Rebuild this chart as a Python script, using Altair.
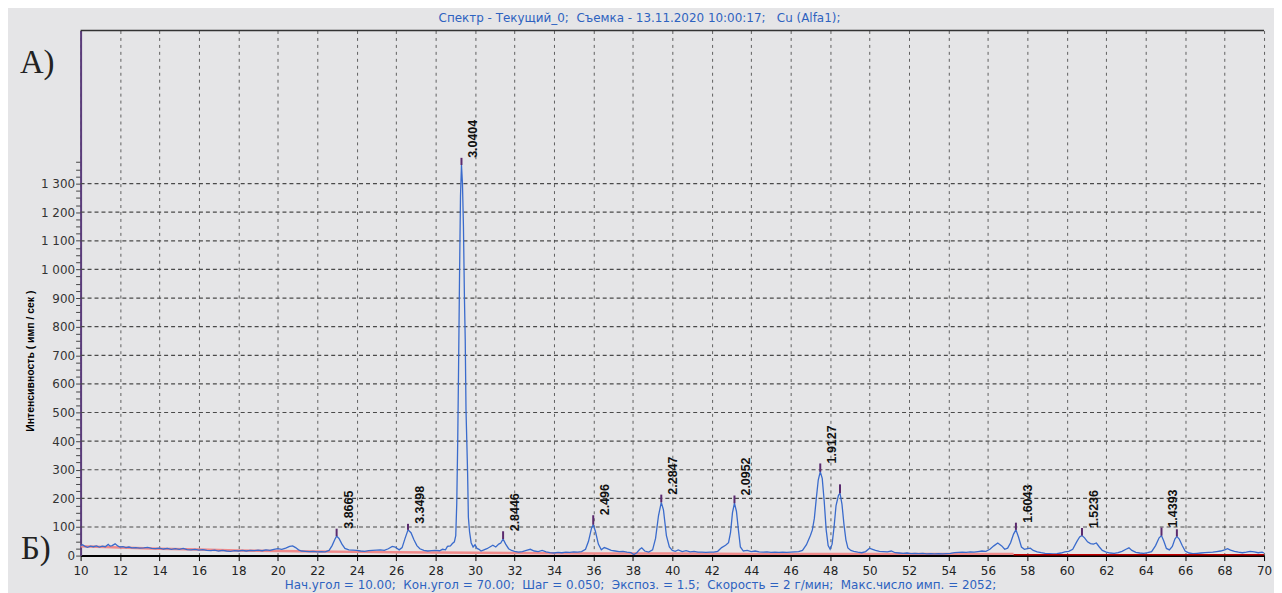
import altair as alt
import pandas as pd

# ---------------- data ----------------
scan = [
(10.0,34),(10.1,38),(10.2,33),(10.35,29),(10.5,33),(10.65,31),(10.8,34),(10.95,30),(11.1,33),(11.25,31),
(11.4,39),(11.5,33),(11.6,35),(11.75,41),(11.9,33),(12.0,30),(12.15,31),(12.3,28),(12.45,30),(12.6,27),
(12.8,28),(13.0,26),(13.2,27),(13.4,29),(13.6,25),(13.8,24),(14.0,26),(14.2,23),(14.4,25),(14.6,22),
(14.8,24),(15.0,22),(15.2,25),(15.4,21),(15.6,20),(15.8,22),(16.0,19),(16.2,21),(16.4,18),(16.6,17),
(16.8,19),(17.0,16),(17.2,18),(17.4,16),(17.6,15),(17.8,17),(18.0,16),(18.2,18),(18.4,16),(18.6,18),
(18.8,17),(19.0,19),(19.2,17),(19.4,20),(19.6,18),(19.8,22),(20.0,24),(20.2,22),(20.4,26),(20.6,32),
(20.75,34),(20.9,28),(21.05,20),(21.2,16),(21.4,15),(21.6,14),(21.8,15),(22.0,13),(22.2,14),(22.4,13),
(22.6,18),(22.75,35),(22.9,58),(22.98,68),(23.1,60),(23.25,40),(23.4,25),(23.6,20),(23.8,19),(24.0,18),
(24.2,16),(24.4,15),(24.6,17),(24.8,18),(25.0,19),(25.2,20),(25.4,18),(25.6,24),(25.8,32),(25.95,30),
(26.15,20),(26.3,28),(26.45,60),(26.6,90),(26.75,80),(26.9,55),(27.05,35),(27.2,24),(27.4,18),(27.6,16),
(27.8,17),(28.0,18),(28.2,17),(28.35,22),(28.5,20),(28.6,32),(28.75,34),(28.85,42),(28.95,48),(29.02,70),
(29.07,180),(29.12,400),(29.16,640),(29.21,965),(29.26,1255),(29.31,1365),(29.36,1300),(29.41,1150),(29.46,900),(29.5,757),
(29.54,508),(29.58,400),(29.62,290),(29.66,134),(29.72,83),(29.8,45),(29.9,30),(30.0,38),(30.1,25),(30.2,22),
(30.3,16),(30.45,20),(30.6,24),(30.75,30),(30.9,36),(31.05,30),(31.2,40),(31.3,44),(31.42,58),(31.55,40),
(31.7,24),(31.85,18),(32.0,15),(32.2,12),(32.4,14),(32.6,18),(32.8,22),(33.0,16),(33.2,14),(33.4,18),
(33.6,13),(33.8,10),(34.0,9),(34.2,11),(34.4,10),(34.6,12),(34.8,11),(35.0,13),(35.2,12),(35.4,14),
(35.6,22),(35.75,50),(35.9,95),(35.99,108),(36.1,85),(36.25,40),(36.4,20),(36.55,28),(36.7,24),(36.9,18),
(37.1,16),(37.3,14),(37.5,15),(37.7,12),(37.9,10),(38.05,4),(38.2,10),(38.35,22),(38.45,27),(38.6,16),
(38.8,12),(39.0,20),(39.15,60),(39.3,140),(39.44,186),(39.55,160),(39.7,70),(39.85,30),(40.0,18),(40.15,15),
(40.3,20),(40.5,14),(40.7,17),(40.9,13),(41.1,15),(41.3,12),(41.5,12),(41.7,11),(41.9,12),(42.1,12),
(42.3,15),(42.5,28),(42.7,36),(42.85,45),(42.95,80),(43.05,150),(43.15,183),(43.25,155),(43.35,90),(43.45,30),
(43.6,16),(43.8,18),(44.0,14),(44.2,16),(44.4,13),(44.6,12),(44.8,13),(45.0,11),(45.2,12),(45.4,11),
(45.6,12),(45.8,11),(46.0,12),(46.2,13),(46.4,14),(46.6,18),(46.8,38),(47.0,70),(47.1,90),(47.2,130),
(47.3,200),(47.4,265),(47.5,293),(47.6,270),(47.7,190),(47.8,90),(47.9,35),(48.0,22),(48.1,40),(48.2,100),
(48.3,175),(48.42,210),(48.5,218),(48.6,180),(48.7,110),(48.8,55),(48.9,27),(49.05,18),(49.2,15),(49.4,12),
(49.6,10),(49.8,14),(50.0,26),(50.15,22),(50.3,18),(50.5,15),(50.7,14),(50.9,13),(51.1,16),(51.3,10),
(51.5,9),(51.7,8),(51.9,9),(52.1,7),(52.3,8),(52.5,7),(52.7,8),(52.9,6),(53.1,7),(53.3,6),
(53.5,7),(53.7,6),(53.9,7),(54.1,8),(54.3,10),(54.5,11),(54.7,12),(54.9,11),(55.1,13),(55.3,12),
(55.5,14),(55.7,16),(55.9,15),(56.1,22),(56.3,34),(56.5,44),(56.7,34),(56.85,22),(57.0,26),(57.15,45),
(57.3,75),(57.42,90),(57.55,65),(57.7,30),(57.85,22),(58.0,24),(58.15,26),(58.3,18),(58.5,13),(58.7,10),
(58.9,8),(59.1,7),(59.3,6),(59.5,7),(59.7,9),(59.9,13),(60.1,15),(60.3,22),(60.5,48),(60.65,65),
(60.77,70),(60.9,62),(61.05,48),(61.2,42),(61.35,40),(61.5,44),(61.65,30),(61.8,18),(62.0,12),(62.2,9),
(62.4,8),(62.6,10),(62.8,15),(63.0,22),(63.15,27),(63.3,18),(63.5,11),(63.7,9),(63.9,8),(64.1,10),
(64.3,14),(64.5,35),(64.68,62),(64.8,70),(64.92,50),(65.05,25),(65.2,20),(65.35,32),(65.48,58),(65.58,67),
(65.7,58),(65.85,35),(66.0,16),(66.2,9),(66.4,7),(66.6,8),(66.8,9),(67.0,10),(67.2,11),(67.4,12),
(67.6,14),(67.8,16),(68.0,20),(68.15,24),(68.3,19),(68.5,15),(68.7,12),(68.9,10),(69.1,12),(69.3,15),
(69.5,13),(69.7,10),(69.9,12),(70.0,9),
]

bg_angle = [10, 12, 14, 16, 18, 20, 22, 24, 26, 28, 30, 32, 34, 36, 40, 44, 48, 52, 57.3]
bg_counts = [33, 28, 24, 21, 18, 16, 14, 13, 12, 11, 10, 9, 8, 7, 7, 6, 6, 6, 6]
bg2_angle = [57.3, 70]
bg2_counts = [3, 3]

tick_angle = [22.98, 26.6, 29.31, 31.42, 35.99, 39.44, 43.15, 47.50, 48.50, 57.42, 60.77, 64.80, 65.58]
tick_base = [68, 90, 1365, 58, 108, 186, 183, 293, 218, 90, 70, 70, 67]
tick_top = [94, 111, 1390, 85, 141, 213, 210, 322, 249, 115, 96, 98, 92]

label_text = ["3.8665", "3.3498", "3.0404", "2.8446", "2.496", "2.2847", "2.0952",
              "1.9127", "1.6043", "1.5236", "1.4393"]
label_angle = [22.98, 26.6, 29.31, 31.42, 35.99, 39.44, 43.15, 47.50, 57.42, 60.77, 64.80]
label_level = [94, 111, 1390, 85, 141, 213, 210, 322, 115, 96, 98]

x_ticks = list(range(10, 71, 2))
y_ticks = list(range(0, 1376, 25))
grid_levels = list(range(100, 1301, 100))

header = "Спектр - Текущий_0;\u00a0 Съемка - 13.11.2020 10:00:17;\u00a0\u00a0 Cu (Alfa1);"
footer = ("Нач.угол = 10.00;\u00a0 Кон.угол = 70.00;\u00a0 Шаг = 0.050;\u00a0 Экспоз. = 1.5;\u00a0 "
          "Скорость = 2 г/мин;\u00a0 Макс.число имп. = 2052;")
y_title = "Интенсивность ( имп / сек )"

# ---------------- tables ----------------
df_scan = pd.DataFrame(scan, columns=["x", "y"])
df_bg = pd.DataFrame({"x": bg_angle, "y": bg_counts})
df_bg2 = pd.DataFrame({"x": bg2_angle, "y": bg2_counts})
df_ticks = pd.DataFrame({"x": tick_angle, "y": tick_base, "y2": tick_top})
df_labels = pd.DataFrame({"x": label_angle, "y": label_level, "t": label_text})
df_grid = pd.DataFrame({"y": grid_levels})

W, H = 1190, 528
BG = "#e5e5e7"

xscale = alt.Scale(domain=[10, 70], nice=False, zero=False)
yscale = alt.Scale(domain=[0, 1835], nice=False, zero=False)

xaxis = alt.Axis(values=x_ticks, grid=True, gridDash=[3, 4], gridColor="#5f5f5f", gridWidth=1,
                 domainColor="#000000", domainWidth=2, tickColor="#000000", tickSize=5,
                 labelFont="DejaVu Sans", labelFontSize=12, labelColor="#222222", labelPadding=5,
                 labelFlush=False, labelOverlap=False, title=None)
yaxis = alt.Axis(values=y_ticks, grid=False,
                 labelExpr="datum.value % 100 != 0 ? '' : (datum.value >= 1000 ? replace(format(datum.value, ','), ',', ' ') : format(datum.value, 'd'))",
                 domainColor="#5a3c7a", domainWidth=2, tickColor="#444444", tickSize=5,
                 labelFont="DejaVu Sans", labelFontSize=12, labelColor="#333333", labelPadding=1,
                 labelOverlap=False, labelFlush=False,
                 title=y_title, titleFont="Liberation Sans", titleFontSize=10.5, titleFontWeight="bold",
                 titleAngle=270, titleX=-50, titleY=332, titleAlign="center", titleBaseline="middle",
                 titleColor="#000000")

X = alt.X("x:Q", scale=xscale, axis=xaxis)
Y = alt.Y("y:Q", scale=yscale, axis=yaxis)

hgrid = alt.Chart(df_grid).mark_rule(color="#4a4a4a", strokeDash=[4, 3], strokeWidth=1.2).encode(
    y=Y, x=alt.value(0), x2=alt.value(W))

bg_line = alt.Chart(df_bg).mark_line(color="#f08a8a", strokeWidth=2.5).encode(x=X, y=Y)
bg2_line = alt.Chart(df_bg2).mark_line(color="#c00000", strokeWidth=1.5).encode(x=X, y=Y)

spectrum = alt.Chart(df_scan).mark_line(color="#3a6bcc", strokeWidth=1.3).encode(x=X, y=Y)

peak_ticks = alt.Chart(df_ticks).mark_rule(color="#5b2a6e", strokeWidth=2).encode(
    x=X, y=Y, y2="y2:Q")

peak_labels = alt.Chart(df_labels).mark_text(
    angle=270, align="left", baseline="middle", dy=12,
    font="Liberation Sans", fontSize=12.5, fontWeight="bold",
    color="#111111").encode(x=X, y=Y, text="t:N")

top_border = alt.Chart(pd.DataFrame({"k": [0]})).mark_rule(color="#333333", strokeWidth=1.5).encode(
    y=alt.value(0), x=alt.value(0), x2=alt.value(W))

head = alt.Chart(pd.DataFrame({"t": [header]})).mark_text(
    font="DejaVu Sans", fontSize=12, color="#2d62c0", align="center", baseline="middle").encode(
    text="t:N", x=alt.value(562), y=alt.value(-13))

foot = alt.Chart(pd.DataFrame({"t": [footer]})).mark_text(
    font="DejaVu Sans", fontSize=12, color="#2d62c0", align="center", baseline="middle").encode(
    text="t:N", x=alt.value(563), y=alt.value(558))

mark_a = alt.Chart(pd.DataFrame({"t": ["А)"]})).mark_text(
    font="Liberation Serif", fontSize=33, color="#222222", align="left", baseline="alphabetic").encode(
    text="t:N", x=alt.value(-61), y=alt.value(43))

mark_b = alt.Chart(pd.DataFrame({"t": ["Б)"]})).mark_text(
    font="Liberation Serif", fontSize=33, color="#222222", align="left", baseline="alphabetic").encode(
    text="t:N", x=alt.value(-60), y=alt.value(531))

chart = alt.layer(
    hgrid, bg_line, spectrum, bg2_line, peak_ticks, peak_labels, top_border, head, foot, mark_a, mark_b
).properties(
    width=W, height=H,
    autosize=alt.AutoSizeParams(type="none"),
    padding={"left": 73, "top": 21, "right": 10, "bottom": 36},
    background=BG,
).configure_view(strokeWidth=0, fill=BG)

chart.save("out.html", embed_options={"renderer": "svg", "actions": False})
